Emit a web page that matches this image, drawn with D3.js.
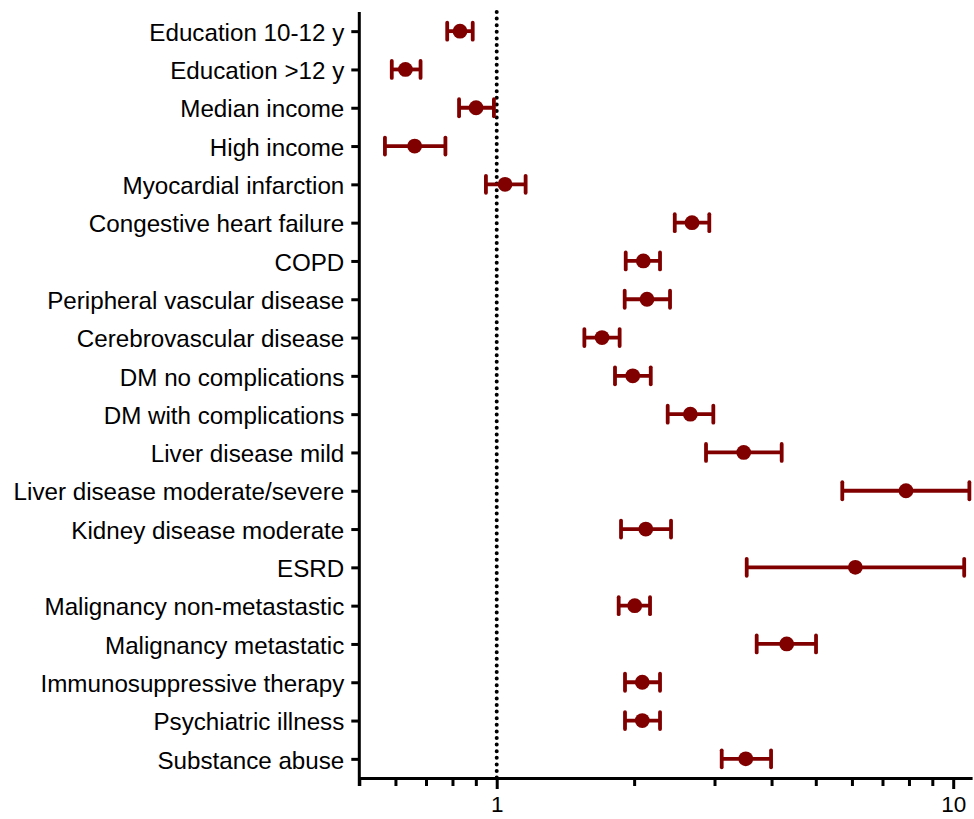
<!DOCTYPE html>
<html>
<head>
<meta charset="utf-8">
<script src="https://cdn.jsdelivr.net/npm/d3@7"></script>
<style>
  body { margin: 0; background: #fff; }
  text { font-family: "Liberation Sans", Arial, sans-serif; fill: #000; }
</style>
</head>
<body>
<div id="forest"></div>
<script>
// rows of the forest plot, top to bottom
var labels = [
  "Education 10-12 y", "Education >12 y", "Median income", "High income",
  "Myocardial infarction", "Congestive heart failure", "COPD",
  "Peripheral vascular disease", "Cerebrovascular disease",
  "DM no complications", "DM with complications", "Liver disease mild",
  "Liver disease moderate/severe", "Kidney disease moderate", "ESRD",
  "Malignancy non-metastastic", "Malignancy metastatic",
  "Immunosuppressive therapy", "Psychiatric illness", "Substance abuse"
];
var estimate = [0.831, 0.631, 0.901, 0.661, 1.043, 2.678, 2.095, 2.134, 1.701, 1.986,
                2.656, 3.476, 7.88, 2.121, 6.104, 2.006, 4.318, 2.084, 2.084, 3.512];
var lower    = [0.779, 0.589, 0.827, 0.569, 0.947, 2.455, 1.917, 1.907, 1.556, 1.816,
                2.369, 2.874, 5.715, 1.872, 3.529, 1.850, 3.711, 1.910, 1.910, 3.111];
var upper    = [0.886, 0.681, 0.986, 0.772, 1.157, 2.922, 2.279, 2.397, 1.859, 2.175,
                2.982, 4.210, 10.85, 2.409, 10.57, 2.167, 5.006, 2.279, 2.279, 3.990];

var majorTicks = [1, 10];
var minorTicks = [0.5, 0.6, 0.7, 0.8, 0.9, 2, 3, 4, 5, 6, 7, 8, 9];
var refValue = 1;

var width = 974, height = 819;
var col = "#800000";

var svg = d3.select("#forest")
  .append("svg")
  .attr("width", width)
  .attr("height", height);

var x = d3.scaleLog()
  .domain([0.5, 11])
  .range([359.3, 972.1]);

var y = d3.scalePoint()
  .domain(labels)
  .range([12, 778])
  .padding(0.5);

var axisY = 778;

// reference line at 1
svg.append("line")
  .attr("x1", x(refValue)).attr("x2", x(refValue))
  .attr("y1", 12).attr("y2", axisY)
  .attr("stroke", "#000")
  .attr("stroke-width", 4)
  .attr("stroke-linecap", "round")
  .attr("stroke-dasharray", "0 6.6");

// x axis: minor ticks, then major ticks with labels
var xMinor = svg.append("g")
  .attr("transform", "translate(0," + axisY + ")")
  .call(d3.axisBottom(x).tickValues(minorTicks).tickSize(8).tickSizeOuter(0).tickFormat(""));
xMinor.select(".domain").attr("stroke-width", 3);
xMinor.selectAll(".tick line").attr("stroke-width", 3);

var xMajor = svg.append("g")
  .attr("transform", "translate(0," + axisY + ")")
  .call(d3.axisBottom(x).tickValues(majorTicks).tickSize(11).tickSizeOuter(0).tickPadding(7)
    .tickFormat(d3.format("d")));
xMajor.select(".domain").remove();
xMajor.selectAll(".tick line").attr("stroke-width", 3);
xMajor.selectAll(".tick text").attr("font-size", "22.5px");

// y axis with category labels
var yAxis = svg.append("g")
  .attr("transform", "translate(" + x(0.5) + ",0)")
  .call(d3.axisLeft(y).tickSize(8).tickSizeOuter(0).tickPadding(7));
yAxis.select(".domain").attr("stroke-width", 3).attr("d", "M0,12V786");
yAxis.selectAll(".tick line").attr("stroke-width", 3);
yAxis.selectAll(".tick text").attr("font-size", "24.2px").attr("dy", "0.38em");

// confidence intervals and point estimates
var rows = svg.append("g")
  .selectAll("g")
  .data(labels)
  .enter()
  .append("g");

rows.append("line")
  .attr("x1", function (d, i) { return x(lower[i]); })
  .attr("x2", function (d, i) { return x(upper[i]); })
  .attr("y1", function (d) { return y(d); })
  .attr("y2", function (d) { return y(d); })
  .attr("stroke", col)
  .attr("stroke-width", 3.8);

rows.append("line")
  .attr("x1", function (d, i) { return x(lower[i]); })
  .attr("x2", function (d, i) { return x(lower[i]); })
  .attr("y1", function (d) { return y(d) - 8.5; })
  .attr("y2", function (d) { return y(d) + 8.5; })
  .attr("stroke", col)
  .attr("stroke-width", 3.8)
  .attr("stroke-linecap", "round");

rows.append("line")
  .attr("x1", function (d, i) { return x(upper[i]); })
  .attr("x2", function (d, i) { return x(upper[i]); })
  .attr("y1", function (d) { return y(d) - 8.5; })
  .attr("y2", function (d) { return y(d) + 8.5; })
  .attr("stroke", col)
  .attr("stroke-width", 3.8)
  .attr("stroke-linecap", "round");

rows.append("circle")
  .attr("cx", function (d, i) { return x(estimate[i]); })
  .attr("cy", function (d) { return y(d); })
  .attr("r", 7.4)
  .attr("fill", col);
</script>
</body>
</html>
